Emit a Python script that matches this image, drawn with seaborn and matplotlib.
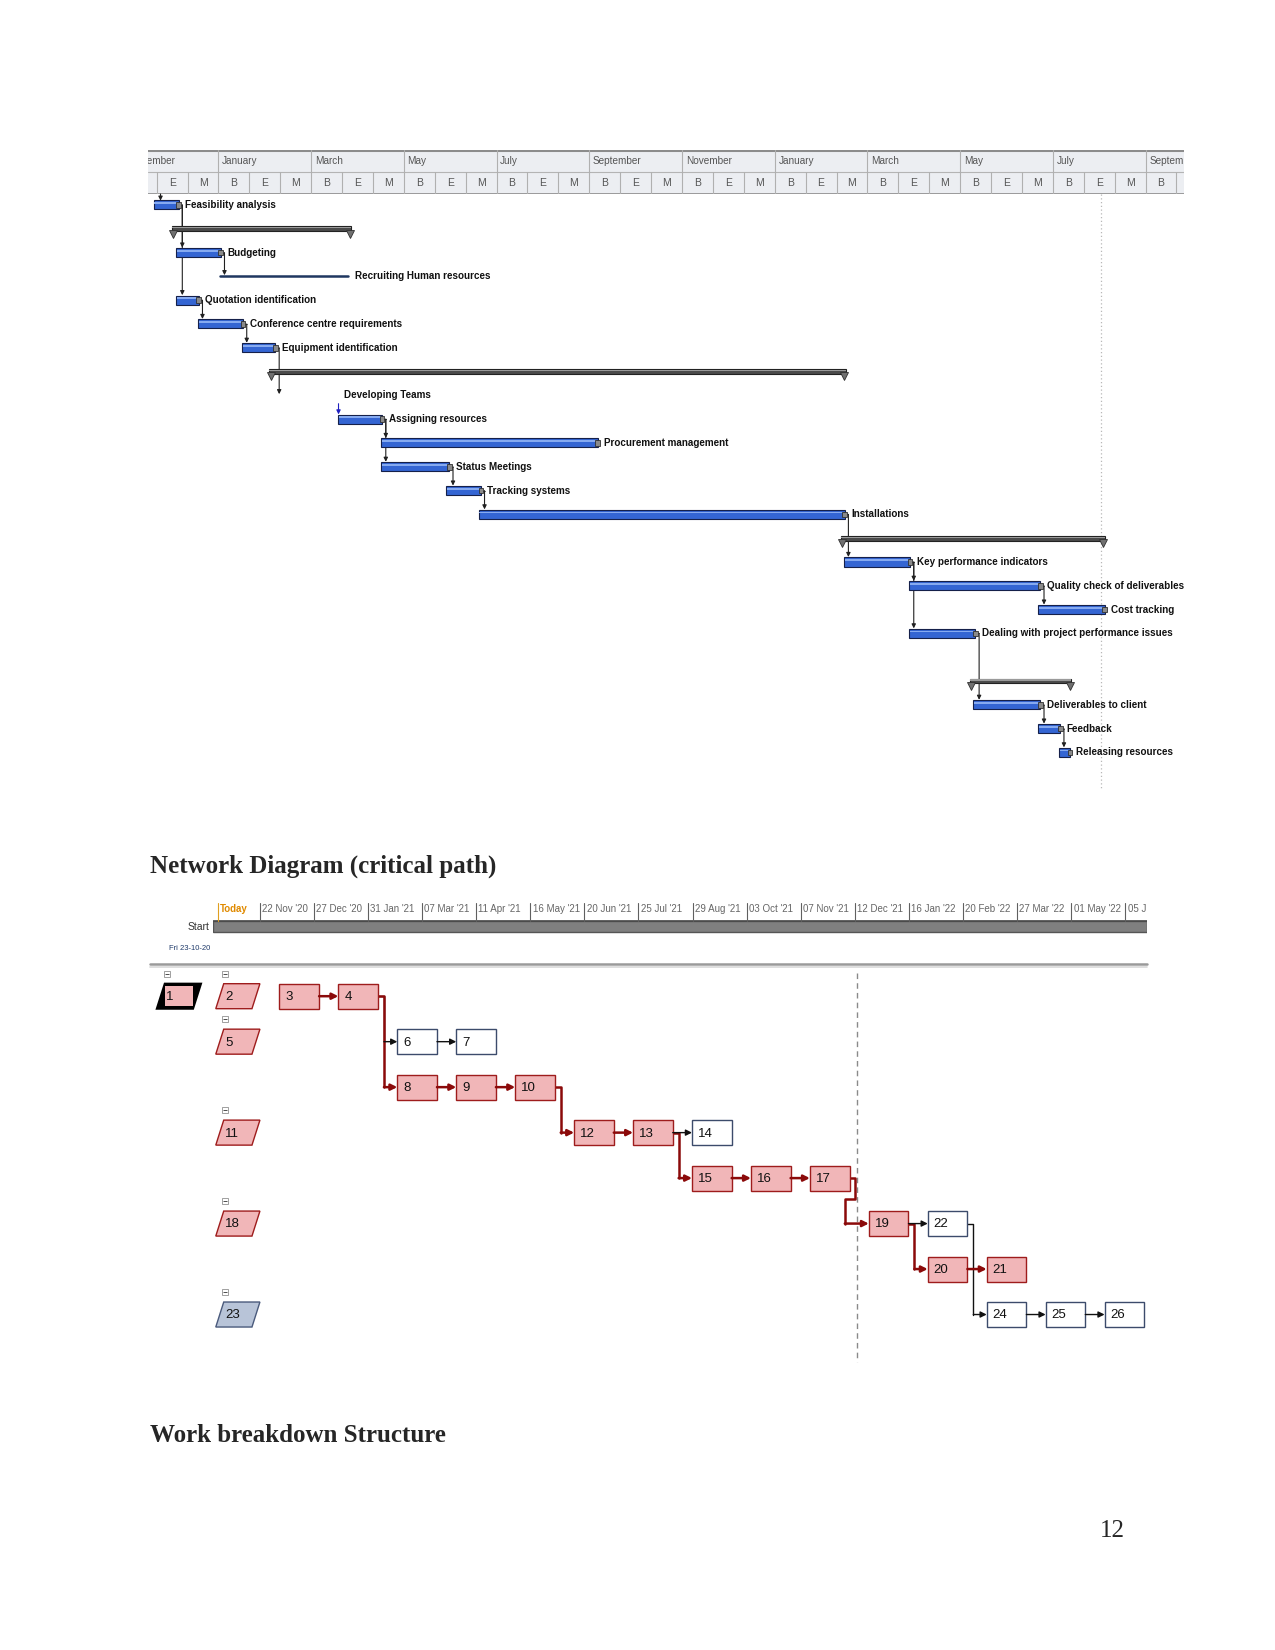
import matplotlib
matplotlib.use("Agg")
import matplotlib.pyplot as plt
from matplotlib.patches import Rectangle, Polygon
import numpy as np
import pandas as pd
import seaborn as sns

sns.set_theme(style="white")
plt.rcParams['font.family'] = ['Liberation Sans', 'DejaVu Sans']

W, H = 1275, 1650

# ---------------- Gantt data (months after 1 Nov 2020) ----------------
task_names = ["Feasibility analysis", "", "Budgeting", "Recruiting Human resources",
              "Quotation identification", "Conference centre requirements",
              "Equipment identification", "", "Developing Teams", "Assigning resources",
              "Procurement management", "Status Meetings", "Tracking systems",
              "Installations", "", "Key performance indicators",
              "Quality check of deliverables", "Cost tracking",
              "Dealing with project performance issues", "", "",
              "Deliverables to client", "Feedback", "Releasing resources"]
task_kind = ["task", "summary", "task", "line", "task", "task", "task", "summary",
             "label", "task", "task", "task", "task", "task", "summary", "task",
             "task", "task", "task", "blank", "summary", "task", "task", "task"]
task_start = [0.60, 0.99, 1.08, 2.03, 1.08, 1.55, 2.51, 3.10, 4.71, 4.57, 5.50, 5.50,
              6.91, 7.61, 15.42, 15.49, 16.90, 19.69, 16.90, 0.0, 18.21, 18.28, 19.69, 20.14]
task_end = [1.14, 4.87, 2.05, 4.80, 1.575, 2.53, 3.23, 15.53, 4.71, 5.53, 10.18, 6.98,
            7.66, 15.51, 21.12, 16.92, 19.73, 21.12, 18.33, 0.0, 20.39, 19.73, 20.16, 20.37]
gantt_links = [(0, 2), (0, 4), (2, 3), (4, 5), (5, 6), (6, 8), (9, 10), (9, 11),
               (11, 12), (12, 13), (13, 15), (15, 16), (15, 18), (16, 17), (18, 21),
               (21, 22), (22, 23)]
month_labels = ["November", "January", "March", "May", "July", "September",
                "November", "January", "March", "May", "July", "September"]
sub_labels = ["B", "E", "M"]
status_month = 21.05

# ---------------- Network diagram data ----------------
node_ids = list(range(1, 27))
node_col = [0, 1, 2, 3, 1, 4, 5, 4, 5, 6, 1, 7, 8, 9, 9, 10, 11, 1, 12, 13, 14, 13, 1, 14, 15, 16]
node_row = [0, 0, 0, 0, 1, 1, 1, 2, 2, 2, 3, 3, 3, 3, 4, 4, 4, 5, 5, 6, 6, 5, 7, 7, 7, 7]
node_type = ["root", "summary", "critical", "critical", "summary", "normal", "normal",
             "critical", "critical", "critical", "summary", "critical", "critical",
             "normal", "critical", "critical", "critical", "summary", "critical",
             "critical", "critical", "normal", "summary_blue", "normal", "normal", "normal"]
edge_src = [3, 4, 4, 6, 8, 9, 10, 12, 13, 13, 15, 16, 17, 19, 19, 20, 22, 24, 25]
edge_dst = [4, 6, 8, 7, 9, 10, 12, 13, 14, 15, 16, 17, 19, 22, 20, 21, 24, 25, 26]
edge_crit = [True, False, True, False, True, True, True, True, False, True, True, True,
             True, False, True, True, False, False, False]
ts_labels = ["22 Nov '20", "27 Dec '20", "31 Jan '21", "07 Mar '21", "11 Apr '21",
             "16 May '21", "20 Jun '21", "25 Jul '21", "29 Aug '21", "03 Oct '21",
             "07 Nov '21", "12 Dec '21", "16 Jan '22", "20 Feb '22", "27 Mar '22",
             "01 May '22", "05 Jun '22"]
project_start = "2020-10-23"
today = "2020-10-26"
status_col = 11.805


def fig_rect(x0, y0, x1, y1):
    return [x0 / W, 1 - y1 / H, (x1 - x0) / W, (y1 - y0) / H]


fig = plt.figure(figsize=(W / 100, H / 100), dpi=100)
fig.patch.set_facecolor("white")

XL = (0.48, 22.83)

# ================= Gantt header =================
hx = fig.add_axes(fig_rect(148, 150, 1184, 194))
hx.set_xlim(*XL)
hx.set_ylim(2, 0)
hx.axis("off")
hx.add_patch(Rectangle((XL[0], 0), XL[1] - XL[0], 2, color="#eceef2", zorder=0))
hx.axhline(0, color="#8c8c8c", lw=2.2)
hx.axhline(1, color="#b4b4b4", lw=0.8)
hx.axhline(2, color="#8c8c8c", lw=1.2)
for i, lab in enumerate(month_labels):
    m = 2 * i
    hx.plot([m, m], [0, 1], color="#b0b0b0", lw=0.8)
    hx.text(m + 0.08, 0.52, lab, fontsize=7.2, color="#555555", va="center",
            ha="left", clip_on=True)
    for j, s in enumerate(sub_labels):
        hx.plot([m + j * 2 / 3] * 2, [1, 2], color="#b0b0b0", lw=0.8)
        hx.text(m + (j + 0.5) * 2 / 3, 1.52, s, fontsize=7.5, color="#555555",
                va="center", ha="center", clip_on=True)

# ================= Gantt body =================
gx = fig.add_axes(fig_rect(148, 194, 1184, 790))
gx.set_xlim(*XL)
gx.set_ylim(24.58, -0.46)
gx.axis("off")

gx.plot([status_month, status_month], [-0.46, 24.58], color="#b8b8b8", lw=0.9,
        ls=(0, (1, 2)), zorder=0)

for r, kind in enumerate(task_kind):
    s, e = task_start[r], task_end[r]
    if kind == "task":
        gx.barh(r, e - s, left=s, height=0.38, color="#3465d3",
                edgecolor="#15204a", lw=0.8, zorder=3)
        gx.barh(r - 0.08, e - s - 0.04, left=s + 0.02, height=0.08,
                color="#86aaf0", lw=0, zorder=4)
        gx.barh(r, 0.1, left=e - 0.05, height=0.24, color="#8a8a8a",
                edgecolor="#303030", lw=0.6, zorder=5)
    elif kind == "summary":
        gx.barh(r, e - s, left=s, height=0.2, color="#4b4b4b",
                edgecolor="#222222", lw=0.8, zorder=3)
        gx.barh(r - 0.04, e - s, left=s, height=0.05, color="#9a9a9a",
                lw=0, zorder=4)
        gx.plot([s + 0.03, e - 0.03], [r + 0.2, r + 0.2], ls="none", marker="v",
                ms=6, color="#707070", mec="#303030", mew=0.6, zorder=5)
    elif kind == "line":
        gx.plot([s, e], [r, r], color="#1f3760", lw=1.8, zorder=3)
    if task_names[r]:
        lx = s if kind == "label" else e + 0.14
        gx.text(lx, r, task_names[r], fontsize=7.1, fontweight="bold",
                color="#111111", va="center", ha="left", zorder=6)

# little incoming arrows at the very first task and Developing Teams
gx.annotate("", xy=(0.75, -0.18), xytext=(0.75, -0.46),
            arrowprops=dict(arrowstyle="-|>", color="#202020", lw=0.8,
                            mutation_scale=6, shrinkA=0, shrinkB=0))
gx.annotate("", xy=(4.59, 8.8), xytext=(4.59, 8.35),
            arrowprops=dict(arrowstyle="-|>", color="#2020c0", lw=0.8,
                            mutation_scale=6, shrinkA=0, shrinkB=0))

for a, b in gantt_links:
    xv = task_end[a] + 0.08
    ytop = b - 0.21 if task_kind[b] == "task" else b - 0.05
    gx.plot([task_end[a] + 0.03, xv], [a, a], color="#303030", lw=0.6, zorder=2)
    gx.annotate("", xy=(xv, ytop), xytext=(xv, a),
                arrowprops=dict(arrowstyle="-|>", color="#202020", lw=0.8,
                                mutation_scale=6, shrinkA=0, shrinkB=0), zorder=2)

# ================= Section titles / page number =================
serif = ["Liberation Serif", "DejaVu Serif"]
fig.text(150 / W, 1 - 866 / H, "Network Diagram (critical path)", fontsize=18,
         fontweight="bold", family=serif, va="center", ha="left")
fig.text(150 / W, 1 - 1436 / H, "Work breakdown Structure", fontsize=18,
         fontweight="bold", family=serif, va="center", ha="left")
fig.text(1125 / W, 1 - 1531 / H, "12", fontsize=18, family=serif,
         va="center", ha="right")

# ================= Network timescale =================
t0 = pd.Timestamp(project_start)
ts_days = [(pd.to_datetime(l, format="%d %b '%y") - t0).days for l in ts_labels]
today_day = (pd.Timestamp(today) - t0).days
tx = fig.add_axes(fig_rect(213.3, 895, 1146.7, 935))
tx.set_xlim(0, 603.8)
tx.set_ylim(1, 0)
tx.axis("off")
tx.add_patch(Rectangle((0, 0.65), 603.8, 0.28, facecolor="#7f7f7f",
                       edgecolor="#555555", lw=1.0))
tx.plot([0, 603.8], [0.66, 0.66], color="#4a4a4a", lw=1.2)
tx.plot([today_day, today_day], [0.2, 0.65], color="#e0a020", lw=0.8)
tx.text(today_day + 1.5, 0.35, "Today", color="#e08a00", fontsize=7,
        fontweight="bold", va="center", ha="left")
for d, lab in zip(ts_days, ts_labels):
    tx.plot([d, d], [0.2, 0.65], color="#606060", lw=0.8)
    tx.text(d + 1.5, 0.35, lab, color="#666666", fontsize=7, va="center",
            ha="left", clip_on=True)
fig.text(209 / W, 1 - 927 / H, "Start", fontsize=7.5, color="#333333",
         va="center", ha="right")
fig.text(210 / W, 1 - 948 / H, "Fri 23-10-20", fontsize=5.5, color="#1f3a6a",
         va="center", ha="right")

# separator
fig.add_artist(plt.Line2D([150 / W, 1147 / W], [1 - 964 / H] * 2,
                          color="#9a9a9a", lw=1.8))
fig.add_artist(plt.Line2D([150 / W, 1147 / W], [1 - 967.5 / H] * 2,
                          color="#d8d8d8", lw=1.2))

# ================= Network nodes =================
nx_ = fig.add_axes(fig_rect(150, 968, 1147, 1365))
nx_.set_xlim(-0.196, 16.72)
nx_.set_ylim(8.11, -0.62)
nx_.axis("off")

NW, NH = 0.673, 0.55
PW, PS = 0.614, 0.135
pink, red = "#f1b6b8", "#9e1c1c"

nx_.plot([status_col, status_col], [-0.51, 8.04], color="#8a8a8a", lw=1.0,
         ls=(0, (4, 3)), zorder=0)

pos = {}
for nid, c, r, t in zip(node_ids, node_col, node_row, node_type):
    pos[nid] = (c, r)
    if t in ("summary", "summary_blue", "root"):
        x0 = c - 0.08
        pts = [(x0, r + NH / 2), (x0 + PW, r + NH / 2),
               (x0 + PW + PS, r - NH / 2), (x0 + PS, r - NH / 2)]
        if t == "root":
            nx_.add_patch(Polygon(pts, closed=True, facecolor="black",
                                  edgecolor="black", lw=1.5, zorder=3))
            nx_.add_patch(Rectangle((x0 + 0.14, r - NH / 2 + 0.06), 0.48, NH - 0.12,
                                    facecolor=pink, edgecolor="none", zorder=4))
        else:
            fc, ec = (pink, red) if t == "summary" else ("#b8c4d8", "#4a5a7c")
            nx_.add_patch(Polygon(pts, closed=True, facecolor=fc, edgecolor=ec,
                                  lw=1.0, zorder=3))
        nx_.text(x0 + 0.16, r + 0.02, str(nid), fontsize=9.5, va="center",
                 ha="left", color="#111111", zorder=5)
        # collapse box above the node
        mx = x0 + 0.15 if t != "root" else x0 + 0.18
        nx_.plot([mx], [r - NH / 2 - 0.22], marker="s", ms=4, mfc="white",
                 mec="#909090", mew=0.6, zorder=5)
        nx_.plot([mx], [r - NH / 2 - 0.22], marker="_", ms=2.5, color="#303030",
                 mew=0.6, zorder=6)
    else:
        if t == "critical":
            fc, ec = pink, red
        else:
            fc, ec = "white", "#3c4b6b"
        nx_.add_patch(Rectangle((c, r - NH / 2), NW, NH, facecolor=fc,
                                edgecolor=ec, lw=1.0, zorder=3))
        nx_.text(c + 0.1, r + 0.02, str(nid), fontsize=9.5, va="center",
                 ha="left", color="#111111", zorder=5)


def arrow_to(xa, ya, xb, color, lw):
    nx_.annotate("", xy=(xb, ya), xytext=(xa, ya),
                 arrowprops=dict(arrowstyle="-|>", color=color, lw=lw,
                                 mutation_scale=9, shrinkA=0, shrinkB=0), zorder=4)


order = sorted(range(len(edge_src)), key=lambda k: edge_crit[k])
for k in order:
    s, d, crit = edge_src[k], edge_dst[k], edge_crit[k]
    (cs, rs), (cd, rd) = pos[s], pos[d]
    color = "#8b0a0a" if crit else "#111111"
    lw = 1.8 if crit else 1.0
    xs = cs + NW
    if rs == rd:
        arrow_to(xs, rs, cd, color, lw)
    elif s == 17:
        xv = xs + 0.1
        xb = xs - 0.08
        ym = rs + 0.45
        nx_.plot([xs, xv, xv, xb, xb], [rs, rs, ym, ym, rd], color=color, lw=lw,
                 zorder=2, solid_joinstyle="round")
        arrow_to(xb, rd, cd, color, lw)
    else:
        xv = xs + 0.1
        nx_.plot([xs, xv, xv], [rs, rs, rd], color=color, lw=lw, zorder=2,
                 solid_joinstyle="round")
        arrow_to(xv, rd, cd, color, lw)

fig.savefig("out.png", dpi=100, facecolor="white")
